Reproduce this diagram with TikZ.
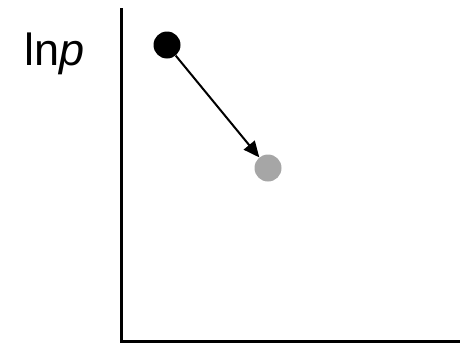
\documentclass[tikz,border=0pt]{standalone}
\usepackage{fontspec}
\setmainfont{Liberation Sans}
\usetikzlibrary{arrows.meta}

\begin{document}
\begin{tikzpicture}[x=1pt, y=-1pt, dot/.style={circle, minimum size=27pt, inner sep=0pt}]
        \useasboundingbox (0,0) rectangle (460,343);
        % Axes
        \coordinate (top) at (121,8);
        \coordinate (origin) at (121,341);
        \coordinate (right) at (460,341);
        \draw[line width=3pt] (top) -- (origin) -- (right);
        \node[anchor=base west, inner sep=0pt, font=\fontsize{45}{54}\selectfont] (label) at (24,65) {ln\textit{p}};
        
        % Points
        \node[dot, fill=black] (start) at (167,45) {};
        \node[dot, fill=black!35] (end) at (268,168) {};
        
        % Arrow
        \draw[line width=2pt, -{Triangle[length=16pt, width=14pt]}] (start) -- (end);
    \end{tikzpicture}
\end{document}
